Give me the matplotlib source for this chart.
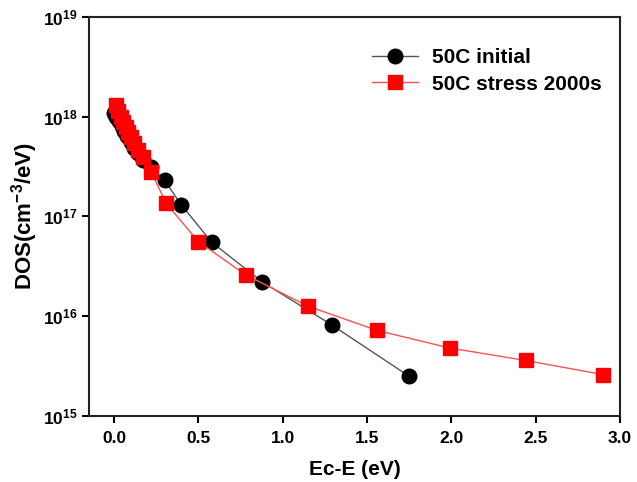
import matplotlib
matplotlib.use("Agg")
import matplotlib.pyplot as plt
from matplotlib.ticker import FixedLocator, NullLocator

plt.rcParams['font.family'] = ['Liberation Sans', 'DejaVu Sans']
plt.rcParams['mathtext.fontset'] = 'custom'
plt.rcParams['mathtext.rm'] = 'Liberation Sans:bold'
plt.rcParams['mathtext.bf'] = 'Liberation Sans:bold'
plt.rcParams['mathtext.default'] = 'bf'

init_x = [0.0, 0.015, 0.03, 0.045, 0.06, 0.08, 0.10, 0.12, 0.145, 0.17, 0.22, 0.30, 0.40, 0.58, 0.88, 1.29, 1.75]
init_y = [1.1e18, 1.0e18, 9.0e17, 8.0e17, 7.2e17, 6.4e17, 5.6e17, 4.9e17, 4.3e17, 3.7e17, 3.1e17, 2.3e17, 1.3e17, 5.5e16, 2.2e16, 8.2e15, 2.5e15]

stress_x = [0.01, 0.025, 0.04, 0.055, 0.07, 0.085, 0.10, 0.12, 0.14, 0.17, 0.22, 0.31, 0.50, 0.78, 1.15, 1.56, 1.99, 2.44, 2.90]
stress_y = [1.3e18, 1.15e18, 1.0e18, 8.9e17, 7.9e17, 7.0e17, 6.2e17, 5.4e17, 4.6e17, 3.9e17, 2.8e17, 1.35e17, 5.6e16, 2.6e16, 1.26e16, 7.2e15, 4.8e15, 3.6e15, 2.6e15]

x_ticks = [0.0, 0.5, 1.0, 1.5, 2.0, 2.5, 3.0]
y_ticks = [1e15, 1e16, 1e17, 1e18, 1e19]
y_tick_labels = [r'$10^{15}$', r'$10^{16}$', r'$10^{17}$', r'$10^{18}$', r'$10^{19}$']

fig = plt.figure(figsize=(6.37, 4.82), dpi=100)
ax = fig.add_axes([0.1397, 0.137, 0.9733 - 0.1397, 0.965 - 0.137])

ax.plot(init_x, init_y, color='#555555', lw=1.0, marker='o', markersize=10.5,
        markerfacecolor='black', markeredgecolor='black', label='50C initial', zorder=3)
ax.plot(stress_x, stress_y, color='#ff5050', lw=1.0, marker='s', markersize=9.5,
        markerfacecolor='#ff0000', markeredgecolor='#ff0000', label='50C stress 2000s', zorder=4)

ax.set_yscale('log')
ax.set_xlim(-0.148, 3.0)
ax.set_ylim(1e15, 1e19)
ax.xaxis.set_major_locator(FixedLocator(x_ticks))
ax.set_xticklabels([f'{v:.1f}' for v in x_ticks])
ax.yaxis.set_major_locator(FixedLocator(y_ticks))
ax.yaxis.set_minor_locator(NullLocator())
ax.set_yticklabels(y_tick_labels)

for s in ax.spines.values():
    s.set_linewidth(1.5)
    s.set_color('#222222')
ax.tick_params(axis='both', direction='out', length=5, width=1.5, labelsize=12.5)
ax.tick_params(axis='x', pad=6)
for lab in ax.get_xticklabels() + ax.get_yticklabels():
    lab.set_fontweight('bold')

ax.set_xlabel('Ec-E (eV)', fontsize=15, fontweight='bold', labelpad=10)
ax.set_ylabel(r'DOS(cm$^{-3}$/eV)', fontsize=16, fontweight='bold', labelpad=2)

leg = ax.legend(loc='upper left', bbox_to_anchor=(364 / 637, 1 - 40 / 482),
                bbox_transform=fig.transFigure, borderaxespad=0, frameon=False,
                prop={'weight': 'bold', 'size': 15}, handlelength=2.2,
                handletextpad=0.65, labelspacing=0.35)

fig.savefig('out.png', dpi=100)
